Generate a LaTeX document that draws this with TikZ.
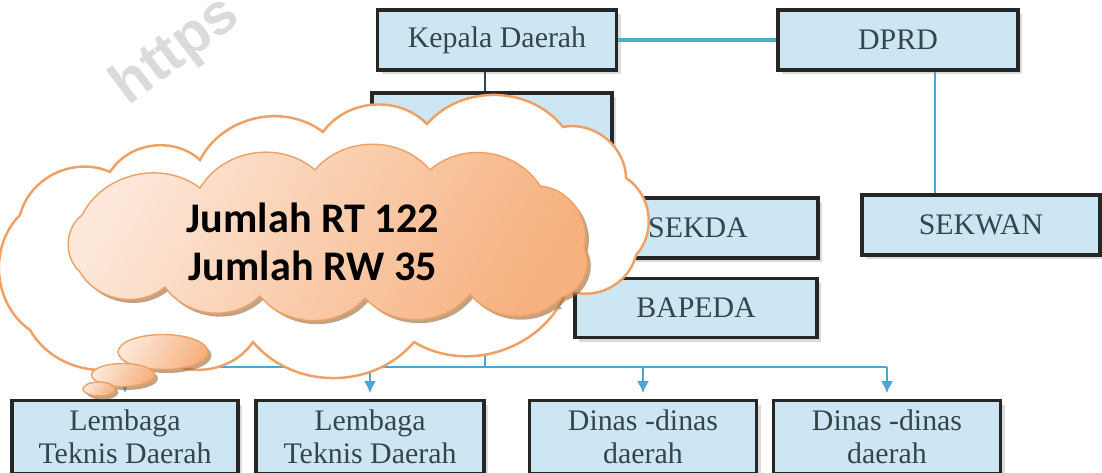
\documentclass[tikz,border=0pt]{standalone}
\usepackage{fontspec}
\setmainfont{Liberation Serif}
\newfontfamily\cloudfont{Carlito}
\newfontfamily\markfont{Liberation Sans}
\usetikzlibrary{shapes.geometric,shadows,arrows.meta}

\definecolor{boxfill}{HTML}{CDE6F4}
\definecolor{boxtext}{HTML}{34464C}
\definecolor{linkteal}{HTML}{4DB0C4}
\definecolor{linkblue}{HTML}{4AA6D6}
\definecolor{cloudline}{HTML}{EFA064}
\definecolor{cloudlight}{HTML}{FDE8DA}
\definecolor{clouddark}{HTML}{F6B17F}

\tikzset{
  orgbox/.style={draw=black!85, line width=2.2pt, fill=boxfill, text=boxtext,
    minimum width=4.8cm, minimum height=1.2cm, align=center, inner sep=1pt,
    font=\fontsize{17}{19}\selectfont,
    drop shadow={shadow xshift=2.5pt, shadow yshift=-2.5pt, fill=black!35, opacity=.4}},
  lowbox/.style={orgbox, minimum width=4.54cm, minimum height=1.46cm},
  link/.style={draw=linkblue, line width=1.4pt},
  arr/.style={link, -{Latex[length=7pt,width=7pt]}},
  puff/.style={draw=cloudline, line width=.8pt,
    left color=cloudlight, right color=clouddark, shading angle=60,
    drop shadow={shadow xshift=2pt, shadow yshift=-2pt, fill=brown!80!black, opacity=.6}},
  bumps/.style={every to/.style={bend left=50}}
}

\begin{document}
\begin{tikzpicture}[x=0.02cm, y=-0.02cm]
  \useasboundingbox (0,0) rectangle (1102,473);
  \clip (0,0) rectangle (1102,473);

  % 'top row'
  \node[orgbox, minimum width=4.78cm] at (497,40) (kepala) {Kepala Daerah};
  \node[orgbox] at (898,40) (dprd) {DPRD};
  \node[orgbox] at (492,123) (wakil) {};

  % 'secretariats'
  \node[orgbox] at (698,228) (sekda) {SEKDA};
  \node[orgbox, minimum width=4.76cm] at (981,225) (sekwan) {SEKWAN};
  \node[orgbox, minimum width=4.84cm, minimum height=1.18cm] at (696,308) (bapeda) {BAPEDA};

  % 'bottom row'
  \node[lowbox, minimum width=4.52cm] at (125,437) (lem1) {Lembaga\\Teknis Daerah};
  \node[lowbox, minimum width=4.56cm] at (370,437) (lem2) {Lembaga\\Teknis Daerah};
  \node[lowbox] at (643,437) (din1) {Dinas -dinas\\daerah};
  \node[lowbox] at (887,437) (din2) {Dinas -dinas\\daerah};

  % 'links'
  \coordinate (spine) at (485,367);
  \draw[draw=linkteal, line width=2pt] (kepala) -- (dprd);
  \draw[draw=boxtext, line width=1.4pt] (kepala.south -| spine) -- (wakil.north -| spine);
  \draw[link] ([xshift=0.74cm]dprd.south) -- ([xshift=0.74cm]dprd.south |- sekwan.north);
  \draw[link] (wakil.south -| spine) -- (spine);
  \draw[arr] (sekda.west -| spine) -- (sekda.west);
  \draw[arr] (bapeda.west -| spine) -- ([xshift=-6pt]bapeda.west);
  \draw[link] (lem1.north |- spine) -- (din2.north |- spine);
  \foreach \b in {lem1,lem2,din1,din2}
    \draw[arr] (\b.north |- spine) -- ([yshift=3pt]\b.north);

  % 'outer cloud'
  \draw[bumps, fill=white, draw=cloudline, line width=1.4pt]
    (30,330) to (20,215) to (110,172) to (200,160) to (323,132) to (427,124)
    to (563,127) to (626,178) to (636,255) to (567,290) to (414,342)
    to (253,342) to (153,352) to (30,330) -- cycle;

  % 'inner cloud'
  \draw[bumps, puff]
    (82,215) to (200,188) to (315,170) to (430,170) to (540,186) to (584,248)
    to (562,297) to (470,294) to (365,298) to (260,296) to (165,287)
    to (80,272) to (82,215) -- cycle;
  \node[ellipse, puff, minimum width=1.8cm, minimum height=.7cm, inner sep=0pt] at (163,352) (b1) {};
  \node[ellipse, puff, minimum width=1.26cm, minimum height=.46cm, inner sep=0pt] at (123,375) (b2) {};
  \node[ellipse, puff, minimum width=.64cm, minimum height=.28cm, inner sep=0pt] at (99,389) (b3) {};
  \node[align=center, font=\cloudfont\bfseries\fontsize{24}{27}\selectfont] at (313,242) (count)
    {Jumlah RT 122\\Jumlah RW 35};

  % 'watermark'
  \node[rotate=37, anchor=base west, text=black!14, font=\markfont\bfseries\fontsize{33}{33}\selectfont]
    at (124,110) (mark) {https};
\end{tikzpicture}
\end{document}
